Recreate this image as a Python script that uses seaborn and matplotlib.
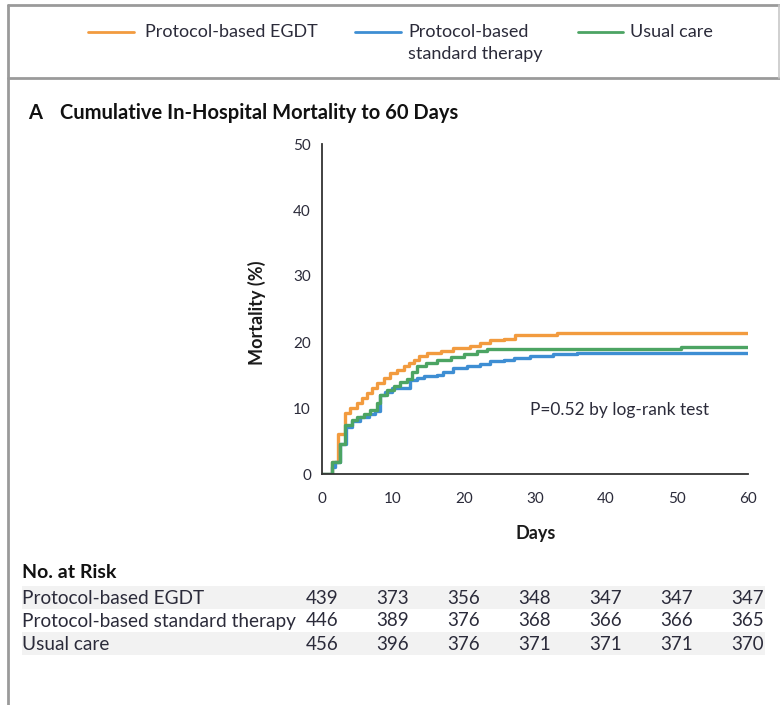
import matplotlib
matplotlib.use("Agg")
import matplotlib.pyplot as plt
import matplotlib.transforms as mtransforms
from matplotlib.lines import Line2D
from matplotlib.patches import Rectangle
import numpy as np
import pandas as pd
import seaborn as sns

# ---------------- data ----------------
groups = ["Protocol-based EGDT", "Protocol-based standard therapy", "Usual care"]
legend_labels = ["Protocol-based EGDT", "Protocol-based\nstandard therapy", "Usual care"]
colors = ["#F29B3F", "#3E8ED3", "#4CA463"]

egdt_days = [0, 1.4, 2.3, 3.3, 4.0, 4.9, 5.6, 6.3, 7.0, 7.7, 8.7, 9.6, 10.6, 11.5, 12.2, 12.9,
             13.6, 14.8, 16.7, 18.5, 20.9, 22.3, 23.7, 25.6, 27.2, 33.1, 60]
egdt_mort = [0, 1.8, 6.1, 9.2, 10.0, 10.8, 11.5, 12.2, 13.0, 13.8, 14.5, 15.3, 15.8, 16.3, 16.8, 17.3,
             17.9, 18.4, 18.7, 19.1, 19.4, 19.9, 20.3, 20.5, 21.0, 21.3, 21.3]

std_days = [0, 1.4, 1.8, 2.6, 3.4, 4.2, 5.4, 6.6, 7.5, 8.2, 8.9, 9.9, 12.4, 13.4, 14.3, 16.2,
            17.1, 18.5, 20.4, 22.3, 23.7, 25.6, 27.0, 29.3, 32.6, 35.9, 60]
std_mort = [0, 1.0, 1.8, 4.6, 7.1, 8.0, 8.6, 9.1, 9.6, 12.0, 12.5, 13.0, 14.3, 14.5, 14.8, 15.0,
            15.5, 16.0, 16.4, 16.7, 17.1, 17.3, 17.6, 17.9, 18.2, 18.4, 18.4]

usual_days = [0, 1.4, 2.5, 3.3, 4.2, 4.9, 5.9, 6.8, 7.7, 8.2, 9.2, 10.1, 11.0, 12.0, 12.7, 13.4,
              14.6, 16.2, 18.1, 20.0, 21.8, 23.2, 50.5, 60]
usual_mort = [0, 1.8, 4.6, 7.4, 8.2, 8.7, 9.1, 9.7, 10.7, 12.0, 12.7, 13.4, 13.9, 14.4, 15.5, 16.3,
              16.8, 17.2, 17.7, 18.2, 18.7, 19.0, 19.2, 19.2]

risk_days = [0, 10, 20, 30, 40, 50, 60]
risk_egdt = [439, 373, 356, 348, 347, 347, 347]
risk_std = [446, 389, 376, 368, 366, 366, 365]
risk_usual = [456, 396, 376, 371, 371, 371, 370]

x_ticks = [0, 10, 20, 30, 40, 50, 60]
y_ticks = [0, 10, 20, 30, 40, 50]

# ---------------- style ----------------
sns.set_style("white")
FONT = ["Lato", "DejaVu Sans"]
plt.rcParams["font.family"] = FONT
TXT = "#2b2b3a"

W, H = 780, 705
fig = plt.figure(figsize=(W / 100, H / 100), dpi=100)


def fx(px):
    return px / W


def fy(py):
    return 1 - py / H


ax = fig.add_axes([fx(322), fy(474), (748 - 322) / W, (474 - 144) / H])

df = pd.concat([
    pd.DataFrame({"Days": egdt_days, "Mortality": egdt_mort, "Group": groups[0]}),
    pd.DataFrame({"Days": std_days, "Mortality": std_mort, "Group": groups[1]}),
    pd.DataFrame({"Days": usual_days, "Mortality": usual_mort, "Group": groups[2]}),
], ignore_index=True)

sns.lineplot(data=df, x="Days", y="Mortality", hue="Group", hue_order=groups,
             palette=colors, estimator=None, drawstyle="steps-post",
             linewidth=2.4, legend=False, ax=ax)

ax.set_xlim(0, 60)
ax.set_ylim(0, 50)
ax.set_xticks(x_ticks)
ax.set_yticks(y_ticks)
ax.set_xticklabels([str(v) for v in x_ticks])
ax.set_yticklabels([str(v) for v in y_ticks])
for s in ["top", "right"]:
    ax.spines[s].set_visible(False)
for s in ["left", "bottom"]:
    ax.spines[s].set_color("#333333")
    ax.spines[s].set_linewidth(1.3)
ax.tick_params(axis="both", direction="out", length=5, width=1.3, color="#333333",
               labelsize=11, labelcolor=TXT, pad=3)
ax.tick_params(axis="x", pad=8)

ax.set_xlabel("Days", fontsize=13, fontweight="bold", color="#1a1a1a")
ax.xaxis.set_label_coords((536 - 322) / 426, (474 - 525) / 330)
ax.set_ylabel("Mortality (%)", fontsize=13, fontweight="bold", color="#1a1a1a")
ax.yaxis.set_label_coords((266 - 322) / 426, (474 - 313) / 330)

ax.text(29.3, 9.7, "P=0.52 by log-rank test", fontsize=12.5, color=TXT,
        ha="left", va="center")

# ---------------- title ----------------
fig.text(fx(28), fy(113), "A", fontsize=14.5, fontweight="bold", color="#111111", va="center")
fig.text(fx(60), fy(113), "Cumulative In-Hospital Mortality to 60 Days", fontsize=14.5,
         fontweight="bold", color="#111111", va="center")

# ---------------- legend (manual) ----------------
leg_line_x = [(88, 134), (355, 401), (578, 623)]
leg_text_x = [145, 408, 630]
for (x0, x1), tx, c, lab in zip(leg_line_x, leg_text_x, colors, legend_labels):
    fig.add_artist(Line2D([fx(x0), fx(x1)], [fy(32), fy(32)], color=c, lw=2.0,
                          transform=fig.transFigure))
    fig.text(fx(tx), fy(32 - 8), lab, fontsize=13, color=TXT, ha="left", va="top",
             linespacing=1.5)

# ---------------- frame lines ----------------
frame_c = "#9a9a9a"
fig.add_artist(Line2D([fx(7.5), fx(7.5)], [fy(5), fy(705)], color=frame_c, lw=2.0,
                      transform=fig.transFigure))
fig.add_artist(Line2D([fx(7.5), fx(780)], [fy(5), fy(5)], color=frame_c, lw=2.0,
                      transform=fig.transFigure))
fig.add_artist(Line2D([fx(7.5), fx(780)], [fy(78), fy(78)], color=frame_c, lw=2.0,
                      transform=fig.transFigure))
fig.add_artist(Line2D([fx(778.5), fx(778.5)], [fy(5), fy(78)], color="#c8c8c8", lw=1.2,
                      transform=fig.transFigure))

# ---------------- number at risk table ----------------
for top, bot in [(586, 609), (632, 655)]:
    fig.add_artist(Rectangle((fx(22), fy(bot)), fx(765) - fx(22), (bot - top) / H,
                             facecolor="#f2f2f2", edgecolor="none",
                             transform=fig.transFigure, zorder=0))

fig.text(fx(22), fy(573), "No. at Risk", fontsize=14, fontweight="bold", color="#111111",
         va="center")
row_y = [598, 621, 644]
blend = mtransforms.blended_transform_factory(ax.transData, fig.transFigure)
for yy, name, vals in zip(row_y, groups, [risk_egdt, risk_std, risk_usual]):
    fig.text(fx(22), fy(yy), name, fontsize=13.7, color=TXT, va="center")
    for d, v in zip(risk_days, vals):
        ax.text(d, fy(yy), str(v), transform=blend, fontsize=13.5, color=TXT,
                ha="center", va="center", clip_on=False)

fig.savefig("out.png", dpi=100)
